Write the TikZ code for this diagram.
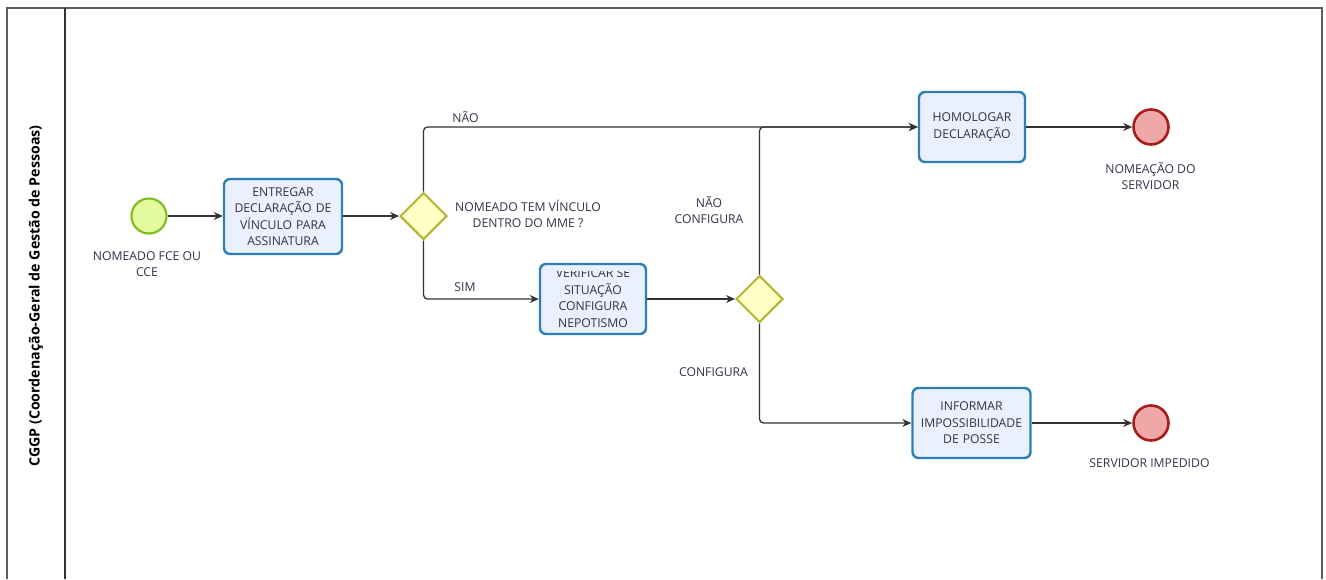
\documentclass[tikz,border=0pt]{standalone}
\usepackage{fontspec}
\setmainfont{Open Sans}
\usetikzlibrary{shapes.geometric,arrows.meta}
\definecolor{txt}{HTML}{3A2E48}
\definecolor{taskb}{HTML}{2E7FB3}
\definecolor{taskf}{HTML}{EAF0FD}
\definecolor{gwb}{HTML}{B4B432}
\definecolor{gwf}{HTML}{FFFFC6}
\definecolor{stb}{HTML}{7FBF1E}
\definecolor{stf}{HTML}{E4FB9E}
\definecolor{endb}{HTML}{A81C1C}
\definecolor{endf}{HTML}{EEA8A8}
\definecolor{ln}{HTML}{333333}
\tikzset{
  x=1pt, y=-1pt,
  lbl/.style={font=\fontsize{12.2}{16.5}\selectfont, text=txt, align=center, inner sep=0pt},
  task/.style={draw=taskb, fill=taskf, line width=2.4pt, rounded corners=6pt, align=center,
    font=\fontsize{12.2}{16.5}\selectfont, text=txt, inner sep=0pt},
  gw/.style={diamond, draw=gwb, fill=gwf, line width=2pt, minimum width=47pt, minimum height=47pt, inner sep=0pt},
  startev/.style={circle, draw=stb, fill=stf, line width=2.2pt, minimum size=35pt, inner sep=0pt},
  endev/.style={circle, draw=endb, fill=endf, line width=2.6pt, minimum size=35pt, inner sep=0pt},
  flow/.style={draw=ln, line width=1.3pt, rounded corners=4pt, -{Stealth[length=9pt,width=8pt]}},
}
\begin{document}
\begin{tikzpicture}
\useasboundingbox (0,0) rectangle (1326,579);
% pool
\draw[draw=ln!80, line width=1.8pt] (7,579) -- (7,8) -- (1322,8) -- (1322,579);
\draw[draw=ln, line width=1.5pt] (65,8) -- (65,579);
\node[rotate=90, font=\bfseries\fontsize{14.2}{16}\selectfont, text=black] (lane) at (36,296) {CGGP (Coordenação-Geral de Gestão de Pessoas)};
% nodes
\node[startev] (start) at (149,216) {};
\node[lbl] (startl) at (147,264) {NOMEADO FCE OU\\CCE};
\node[task, minimum width=118pt, minimum height=75pt, text width=112pt] (t1) at (283,216.5) {ENTREGAR\\DECLARAÇÃO DE\\VÍNCULO PARA\\ASSINATURA};
\node[gw] (g1) at (423.5,216) {};
\node[lbl] (g1l) at (528,214) {NOMEADO TEM VÍNCULO\\DENTRO DO MME ?};
\node[task, minimum width=106pt, minimum height=70pt] (t2) at (593,299) {};
\begin{scope}
\clip (540,271) rectangle (646,334);
\node[lbl] (t2txt) at (593,298) {VERIFICAR SE\\SITUAÇÃO\\CONFIGURA\\NEPOTISMO};
\end{scope}
\node[gw] (g2) at (759.5,299) {};
\node[task, minimum width=106pt, minimum height=70pt, text width=100pt] (t3) at (972,127) {HOMOLOGAR\\DECLARAÇÃO};
\node[task, minimum width=118pt, minimum height=70pt, text width=112pt] (t4) at (971.5,423) {INFORMAR\\IMPOSSIBILIDADE\\DE POSSE};
\node[endev] (e1) at (1151,127) {};
\node[lbl] (e1l) at (1150.5,176) {NOMEAÇÃO DO\\SERVIDOR};
\node[endev] (e2) at (1151,423) {};
\node[lbl] (e2l) at (1149.5,463) {SERVIDOR IMPEDIDO};
% labels on flows
\node[lbl] (nao) at (465.5,117) {NÃO};
\node[lbl] (sim) at (465,287) {SIM};
\node[lbl] (naoc) at (709,210) {NÃO\\CONFIGURA};
\node[lbl] (conf) at (713.5,372) {CONFIGURA};
% flows
\draw[flow] (start.east) -- (start.east -| t1.west);
\draw[flow] (t1.east |- g1.west) -- (g1.west);
\draw[flow] (g1.north) |- (t3.west);
\draw[flow] (g1.south) |- (t2.west);
\draw[flow] (t2.east) -- (g2.west);
\draw[flow] (g2.north) |- (t3.west);
\draw[flow] (g2.south) |- (t4.west);
\draw[flow] (t3.east) -- (e1);
\draw[flow] (t4.east) -- (e2);
\end{tikzpicture}
\end{document}
